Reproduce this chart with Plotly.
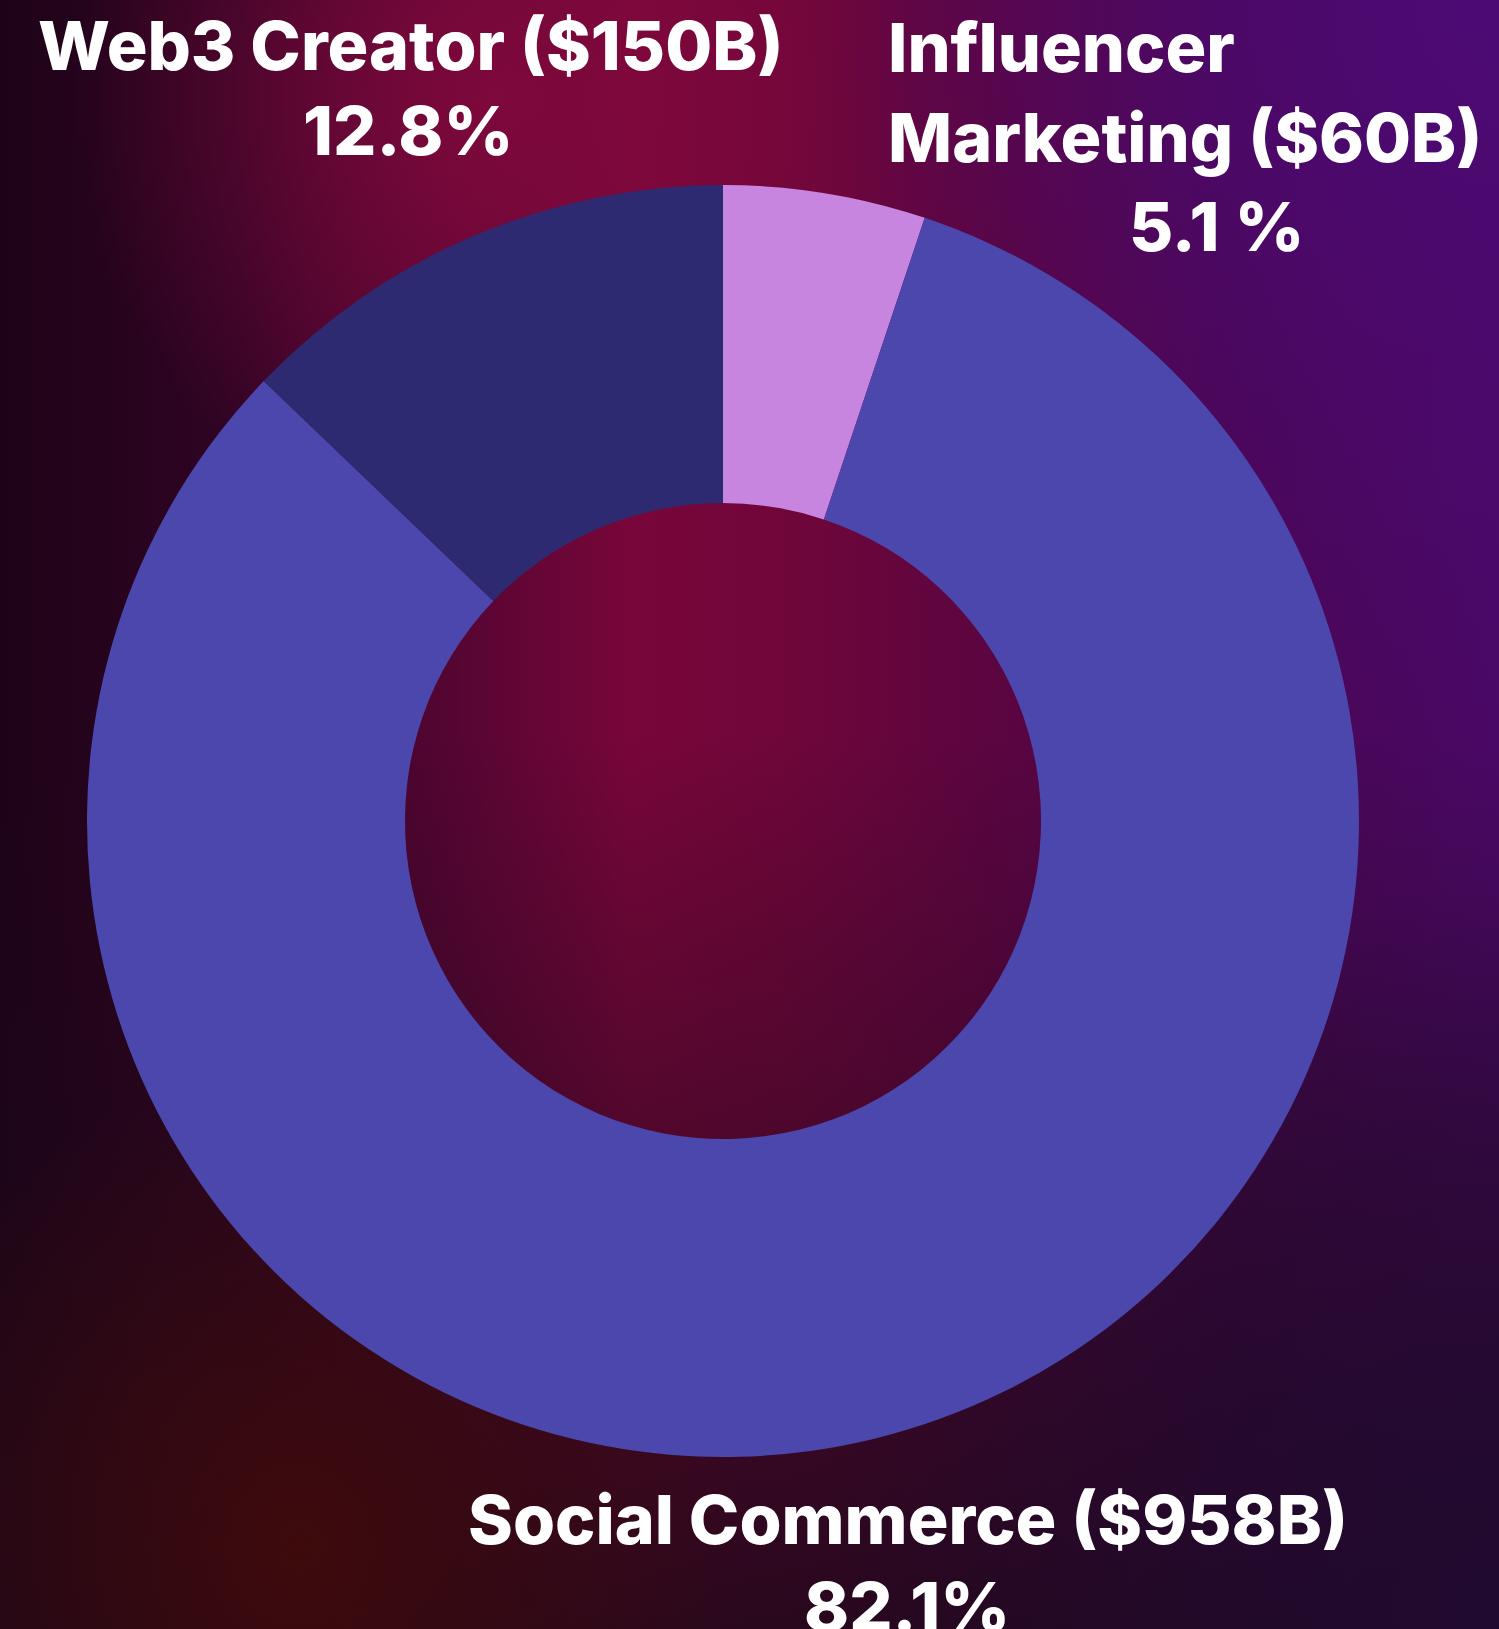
import base64
import plotly.graph_objects as go

W, H = 1499, 1629

# ---- data ----
segments = ["Influencer Marketing", "Social Commerce", "Web3 Creator"]
values_bn = [60, 958, 150]
value_labels = ["$60B", "$958B", "$150B"]
pct_labels = ["5.1 %", "82.1%", "12.8%"]
colors = ["#C785DF", "#4B47AD", "#2E2A72"]

# ---- background (gradient, drawn as an SVG image) ----
svg = f"""<svg xmlns='http://www.w3.org/2000/svg' width='{W}' height='{H}' viewBox='0 0 {W} {H}' preserveAspectRatio='none'>
<defs>
<linearGradient id='base' x1='0' y1='0' x2='1' y2='0'>
<stop offset='0' stop-color='#1e0318'/>
<stop offset='0.16' stop-color='#300424'/>
<stop offset='0.29' stop-color='#520532'/>
<stop offset='0.42' stop-color='#78063a'/>
<stop offset='0.52' stop-color='#70063a'/>
<stop offset='0.66' stop-color='#5c0540'/>
<stop offset='0.82' stop-color='#4a0652'/>
<stop offset='1' stop-color='#4a0866'/>
</linearGradient>
<linearGradient id='shade' x1='0' y1='0' x2='0' y2='1'>
<stop offset='0' stop-color='#1c0818' stop-opacity='0'/>
<stop offset='0.45' stop-color='#1c0818' stop-opacity='0'/>
<stop offset='0.72' stop-color='#1c0818' stop-opacity='0.45'/>
<stop offset='1' stop-color='#1c0818' stop-opacity='0.85'/>
</linearGradient>
<radialGradient id='crim' cx='0.33' cy='0.06' r='0.28'>
<stop offset='0' stop-color='#82093c' stop-opacity='0.9'/>
<stop offset='1' stop-color='#82093c' stop-opacity='0'/>
</radialGradient>
<radialGradient id='purp' cx='1.0' cy='0.0' r='0.45'>
<stop offset='0' stop-color='#4c0a74' stop-opacity='1'/>
<stop offset='1' stop-color='#4c0a74' stop-opacity='0'/>
</radialGradient>
<radialGradient id='brown' cx='0.2' cy='0.95' r='0.3'>
<stop offset='0' stop-color='#3e0a0c' stop-opacity='1'/>
<stop offset='1' stop-color='#3e0a0c' stop-opacity='0'/>
</radialGradient>
<radialGradient id='rbot' cx='1.0' cy='1.0' r='0.45'>
<stop offset='0' stop-color='#200a30' stop-opacity='0.9'/>
<stop offset='1' stop-color='#200a30' stop-opacity='0'/>
</radialGradient>
</defs>
<rect width='{W}' height='{H}' fill='url(#base)'/>
<rect width='{W}' height='{H}' fill='url(#crim)'/>
<rect width='{W}' height='{H}' fill='url(#purp)'/>
<rect width='{W}' height='{H}' fill='url(#shade)'/>
<rect width='{W}' height='{H}' fill='url(#rbot)'/>
<rect width='{W}' height='{H}' fill='url(#brown)'/>
</svg>"""
bg_src = "data:image/svg+xml;base64," + base64.b64encode(svg.encode()).decode()

# ---- pie geometry (pixels) ----
cx, cy, R = 723, 821, 636


def px(x):
    return x / W


def py(y):
    return 1 - y / H


fig = go.Figure(
    go.Pie(
        labels=segments,
        values=values_bn,
        hole=0.5,
        sort=False,
        direction="clockwise",
        rotation=0,
        marker=dict(colors=colors, line=dict(width=0)),
        textinfo="none",
        hoverinfo="label+value+percent",
        showlegend=False,
        domain=dict(x=[px(cx - R), px(cx + R)], y=[py(cy + R), py(cy - R)]),
    )
)

font = dict(family="Inter, Lato, sans-serif", size=68, color="white", weight=800)

ann = []
# Web3 Creator (index 2)
ann.append(dict(text=f"Web3 Creator ({value_labels[2]})", x=px(410), y=py(45), xanchor="center"))
ann.append(dict(text=pct_labels[2], x=px(408), y=py(130), xanchor="center"))
# Influencer Marketing (index 0)
ann.append(dict(text="Influencer", x=px(886), y=py(47), xanchor="left"))
ann.append(dict(text=f"Marketing ({value_labels[0]})", x=px(886), y=py(137), xanchor="left"))
ann.append(dict(text=pct_labels[0], x=px(1216), y=py(226), xanchor="center"))
# Social Commerce (index 1)
ann.append(dict(text=f"Social Commerce ({value_labels[1]})", x=px(908), y=py(1519), xanchor="center"))
ann.append(dict(text=pct_labels[1], x=px(907), y=py(1606), xanchor="center"))

for a in ann:
    a.update(xref="paper", yref="paper", yanchor="middle", showarrow=False, font=font)

fig.update_layout(
    width=W,
    height=H,
    margin=dict(l=0, r=0, t=0, b=0),
    paper_bgcolor="#240520",
    plot_bgcolor="rgba(0,0,0,0)",
    annotations=ann,
    images=[dict(source=bg_src, xref="paper", yref="paper", x=0, y=1, sizex=1, sizey=1,
                 xanchor="left", yanchor="top", sizing="stretch", layer="below")],
)

fig.write_html(
    "out.html",
    config={"displayModeBar": False},
    post_script="document.body.style.margin='0';document.body.style.overflow='hidden';",
)
